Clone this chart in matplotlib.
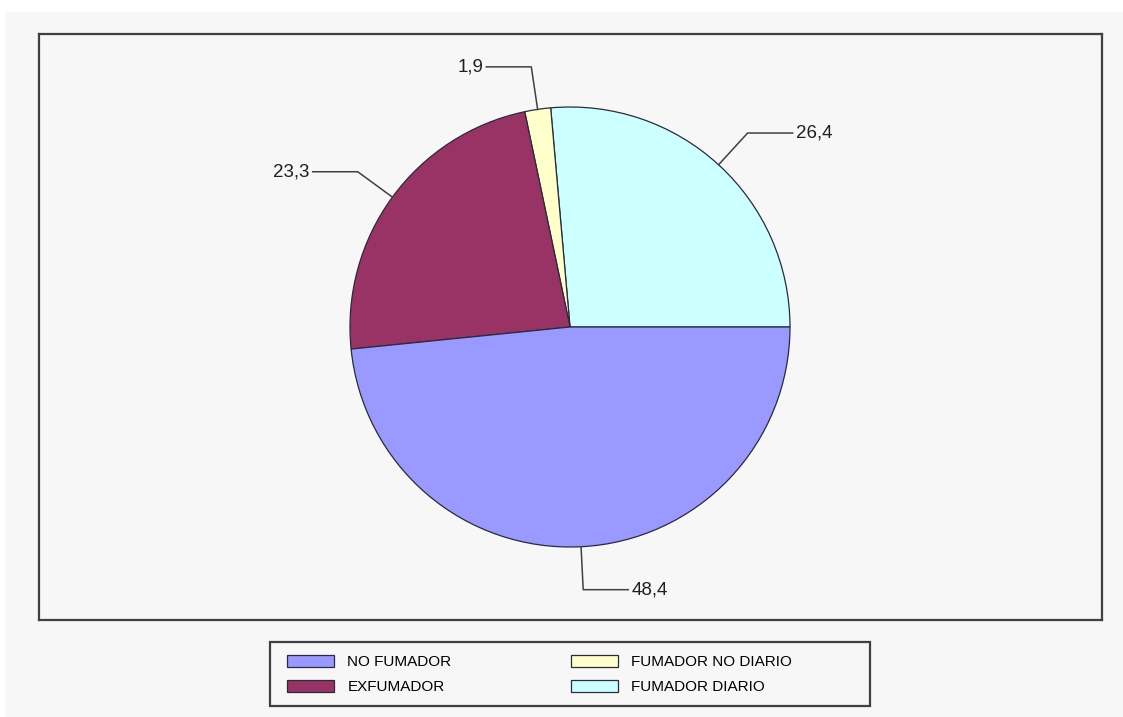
import numpy as np
import matplotlib.pyplot as plt
from matplotlib.patches import Rectangle

# smoking status shares (%), drawn counter-clockwise from 3 o'clock
categorias = ['FUMADOR DIARIO', 'FUMADOR NO DIARIO', 'EXFUMADOR', 'NO FUMADOR']
porcentajes = [26.4, 1.9, 23.3, 48.4]
colores = ['#CCFFFF', '#FFFFCC', '#993366', '#9999FF']
orden_leyenda = ['NO FUMADOR', 'EXFUMADOR', 'FUMADOR NO DIARIO', 'FUMADOR DIARIO']

W, H = 1123, 717
fondo = '#F7F7F7'
borde = '#404040'
plt.rcParams['font.family'] = ['Liberation Sans', 'DejaVu Sans']

fig = plt.figure(figsize=(W / 100, H / 100), dpi=100, facecolor='white')
# grey panel (thin white strip left and top)
fig.patches.append(Rectangle((5 / W, 0), 1 - 5 / W, 1 - 12 / H, transform=fig.transFigure,
                             facecolor=fondo, edgecolor='none', zorder=-5))

# plot frame in pixel units so the pie stays round
x0, y0, x1, y1 = 39, 34, 1102, 620
ax = fig.add_axes([x0 / W, 1 - y1 / H, (x1 - x0) / W, (y1 - y0) / H])
ax.set_zorder(2)
ax.set_facecolor(fondo)

cx, cy, r = 570 - x0, y1 - 327, 220
wedges, _ = ax.pie(porcentajes, colors=colores, startangle=0, counterclock=True,
                   center=(cx, cy), radius=r, frame=True,
                   wedgeprops=dict(edgecolor='#2a2a3a', linewidth=0.9))
ax.set_aspect('auto')
ax.set_xlim(0, x1 - x0)
ax.set_ylim(0, y1 - y0)
ax.set_xticks([])
ax.set_yticks([])
for s in ax.spines.values():
    s.set_color(borde)
    s.set_linewidth(1.6)

# value labels with elbow leader lines
for w, v in zip(wedges, porcentajes):
    ang = np.deg2rad((w.theta1 + w.theta2) / 2)
    c, s = np.cos(ang), np.sin(ang)
    px, py = cx + r * c, cy + r * s
    ex, ey = cx + 263 * c, cy + 263 * s
    lado = 1 if c >= 0 else -1
    hx = ex + 45 * lado
    ax.plot([px, ex, hx], [py, ey, ey], color=borde, linewidth=1.1)
    ax.text(hx + 3 * lado, ey, f'{v:.1f}'.replace('.', ','), fontsize=13.5,
            ha='left' if lado > 0 else 'right', va='center', color='#202020')

# legend box
lx0, ly0, lx1, ly1 = 270, 642, 870, 706
fig.patches.append(Rectangle((lx0 / W, 1 - ly1 / H), (lx1 - lx0) / W, (ly1 - ly0) / H,
                             transform=fig.transFigure, facecolor=fondo,
                             edgecolor=borde, linewidth=1.6, zorder=1))
handles = [wedges[categorias.index(n)] for n in orden_leyenda]
fig.legend(handles, orden_leyenda, ncol=2, frameon=False, fontsize=11,
           loc='upper left', bbox_to_anchor=(287 / W, 1 - 655 / H),
           borderpad=0, borderaxespad=0, handlelength=3.1, handleheight=0.85,
           handletextpad=0.85, columnspacing=7.8, labelspacing=0.7)

fig.savefig('out.png', dpi=100, facecolor=fig.get_facecolor())
